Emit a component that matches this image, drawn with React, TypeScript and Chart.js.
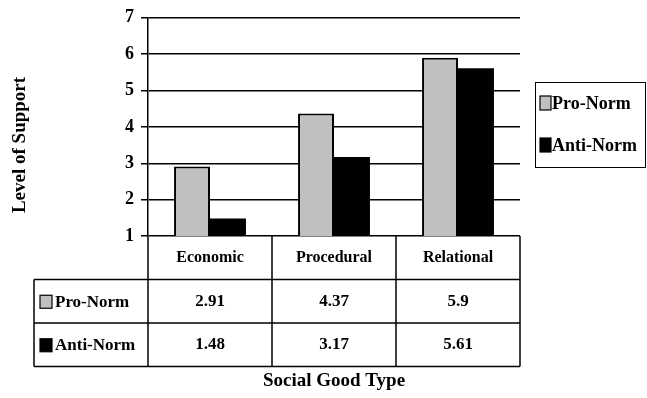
import React, { useEffect, useRef } from "react";
import { Chart, registerables } from "chart.js";

Chart.register(...registerables);

const categories = ["Economic", "Procedural", "Relational"];
const seriesNames = ["Pro-Norm", "Anti-Norm"];
const proNorm = [2.91, 4.37, 5.9];
const antiNorm = [1.48, 3.17, 5.61];
const tableLabels = [["2.91", "4.37", "5.9"], ["1.48", "3.17", "5.61"]];
const yTitle = "Level of Support";
const xTitle = "Social Good Type";
const colors = ["#c0c0c0", "#000000"];

const FONT = "'Liberation Serif', 'Times New Roman', serif";

const tablePlugin = {
  id: "tableAndLegend",
  afterDraw(chart: any) {
    const ctx = chart.ctx as CanvasRenderingContext2D;
    const area = chart.chartArea;
    const left = area.left;
    const right = area.right;
    const top = area.bottom;
    const rowH = 43.5;
    const tableLeft = 34;
    const colW = (right - left) / categories.length;
    ctx.save();
    ctx.strokeStyle = "#000";
    ctx.lineWidth = 1.5;
    const bottom = top + rowH * 3;
    for (let i = 0; i <= categories.length; i++) {
      const x = left + i * colW;
      ctx.beginPath();
      ctx.moveTo(x, top);
      ctx.lineTo(x, bottom);
      ctx.stroke();
    }
    ctx.beginPath();
    ctx.moveTo(tableLeft, top + rowH);
    ctx.lineTo(tableLeft, bottom);
    ctx.stroke();
    for (let r = 1; r <= 3; r++) {
      const y = top + r * rowH;
      ctx.beginPath();
      ctx.moveTo(tableLeft, y);
      ctx.lineTo(right, y);
      ctx.stroke();
    }
    ctx.fillStyle = "#000";
    ctx.textAlign = "center";
    ctx.textBaseline = "middle";
    ctx.font = `bold 16px ${FONT}`;
    categories.forEach((c, i) => {
      ctx.fillText(c, left + (i + 0.5) * colW, top + rowH / 2);
    });
    ctx.font = `bold 17px ${FONT}`;
    tableLabels.forEach((row, r) => {
      row.forEach((v, i) => {
        ctx.fillText(v, left + (i + 0.5) * colW, top + rowH * (r + 1.5));
      });
    });
    ctx.textAlign = "left";
    seriesNames.forEach((name, r) => {
      const cy = top + rowH * (r + 1.5);
      ctx.fillStyle = colors[r];
      ctx.fillRect(40, cy - 6, 12, 13);
      ctx.lineWidth = 1.2;
      ctx.strokeStyle = "#000";
      ctx.strokeRect(40, cy - 6, 12, 13);
      ctx.fillStyle = "#000";
      ctx.font = `bold 17px ${FONT}`;
      ctx.fillText(name, 55, cy + 1);
    });
    ctx.lineWidth = 1;
    ctx.strokeRect(535.5, 82.5, 110, 85);
    seriesNames.forEach((name, r) => {
      const cy = 103 + r * 42;
      ctx.fillStyle = colors[r];
      ctx.fillRect(540, cy - 7, 11, 14);
      ctx.lineWidth = 1.2;
      ctx.strokeStyle = "#000";
      ctx.strokeRect(540, cy - 7, 11, 14);
      ctx.fillStyle = "#000";
      ctx.font = `bold 18px ${FONT}`;
      ctx.fillText(name, 552, cy + 1);
    });
    ctx.font = `bold 19px ${FONT}`;
    ctx.textAlign = "center";
    ctx.fillText(xTitle, (left + right) / 2, 381);
    ctx.save();
    ctx.translate(20, 145);
    ctx.rotate(-Math.PI / 2);
    ctx.fillText(yTitle, 0, 0);
    ctx.restore();
    ctx.restore();
  },
};

export default function App() {
  const ref = useRef<HTMLCanvasElement>(null);
  useEffect(() => {
    document.body.style.margin = "0";
    const chart = new Chart(ref.current!, {
      type: "bar",
      data: {
        labels: categories,
        datasets: [
          {
            label: seriesNames[0],
            data: proNorm,
            backgroundColor: colors[0],
            borderColor: "#000",
            borderWidth: 2,
            categoryPercentage: 0.58,
            barPercentage: 1,
          },
          {
            label: seriesNames[1],
            data: antiNorm,
            backgroundColor: colors[1],
            borderColor: "#000",
            borderWidth: 0,
            categoryPercentage: 0.58,
            barPercentage: 1,
          },
        ],
      },
      options: {
        responsive: false,
        animation: false,
        layout: { padding: { top: 15, bottom: 162, left: 0, right: 127 } },
        plugins: { legend: { display: false }, tooltip: { enabled: false } },
        scales: {
          x: { display: false },
          y: {
            min: 1,
            max: 7,
            ticks: {
              stepSize: 1,
              color: "#000",
              padding: 7,
              font: { family: FONT, weight: "bold", size: 18 },
            },
            grid: { color: "#000", lineWidth: 1.5, tickLength: 7 },
            border: { color: "#000", width: 1.5 },
            afterFit: (s: any) => {
              s.width = 148;
            },
          },
        },
      },
      plugins: [tablePlugin],
    });
    return () => chart.destroy();
  }, []);
  return (
    <div style={{ width: 647, height: 398, background: "#fff" }}>
      <canvas ref={ref} width={647} height={398} style={{ display: "block" }} />
    </div>
  );
}
